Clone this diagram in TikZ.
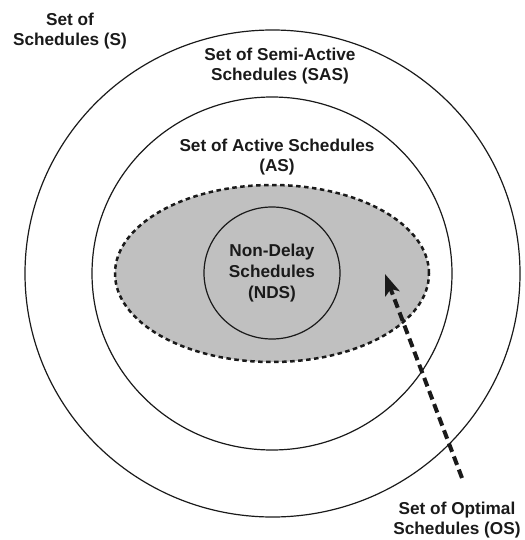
\documentclass[tikz,border=0pt]{standalone}
\usepackage{fontspec}
\usepackage{tikz}
\usetikzlibrary{
  arrows.meta,
  shapes.geometric,
  positioning
}
\newfontfamily\setfont{Liberation Sans}
\definecolor{osGray}{HTML}{C0C0C0}
\definecolor{setInk}{HTML}{1A1A1A}

\begin{document}
\begin{tikzpicture}[x=1pt, y=-1pt,
  ring/.style={ellipse, draw=setInk, line width=1.2pt, inner sep=0pt},
  setlabel/.style={font=\setfont\bfseries\fontsize{17.2}{20.8}\selectfont, text=setInk, align=center, inner sep=0pt}]
  \useasboundingbox (0,0) rectangle (524,540);
  % nested sets
  \node[ring, minimum width=495, minimum height=487] (S) at (272.5,273.5) {};
  \node[ring, minimum width=360, minimum height=353] (SAS) at (272,273.5) {};
  \node[ellipse, draw=setInk, fill=osGray, line width=2.5pt, dash pattern=on 4.5pt off 3.5pt, inner sep=0pt,
        minimum width=314, minimum height=177] (OS) at (272,273.5) {};
  \node[ring, minimum width=136, minimum height=132] (NDS) at (272,273) {};
  % labels
  \node[setlabel] (lblS) at (70,31) {Set of\\Schedules (S)};
  \node[setlabel] (lblSAS) at (280,66) {Set of Semi-Active\\Schedules (SAS)};
  \node[setlabel] (lblAS) at (277,157) {Set of Active Schedules\\(AS)};
  \node[setlabel] (lblNDS) at (272,273) {Non-Delay\\Schedules\\(NDS)};
  \node[setlabel] (lblOS) at (457,520) {Set of Optimal\\Schedules (OS)};
  % pointer to optimal set
  \coordinate (ostail) at (462,478);
  \coordinate (ostip) at (385,274);
  \draw[-{Stealth[length=21pt, width=15pt, inset=5pt]}, line width=4pt, dash pattern=on 9pt off 5pt, setInk] (ostail) -- (ostip);
\end{tikzpicture}
\end{document}
